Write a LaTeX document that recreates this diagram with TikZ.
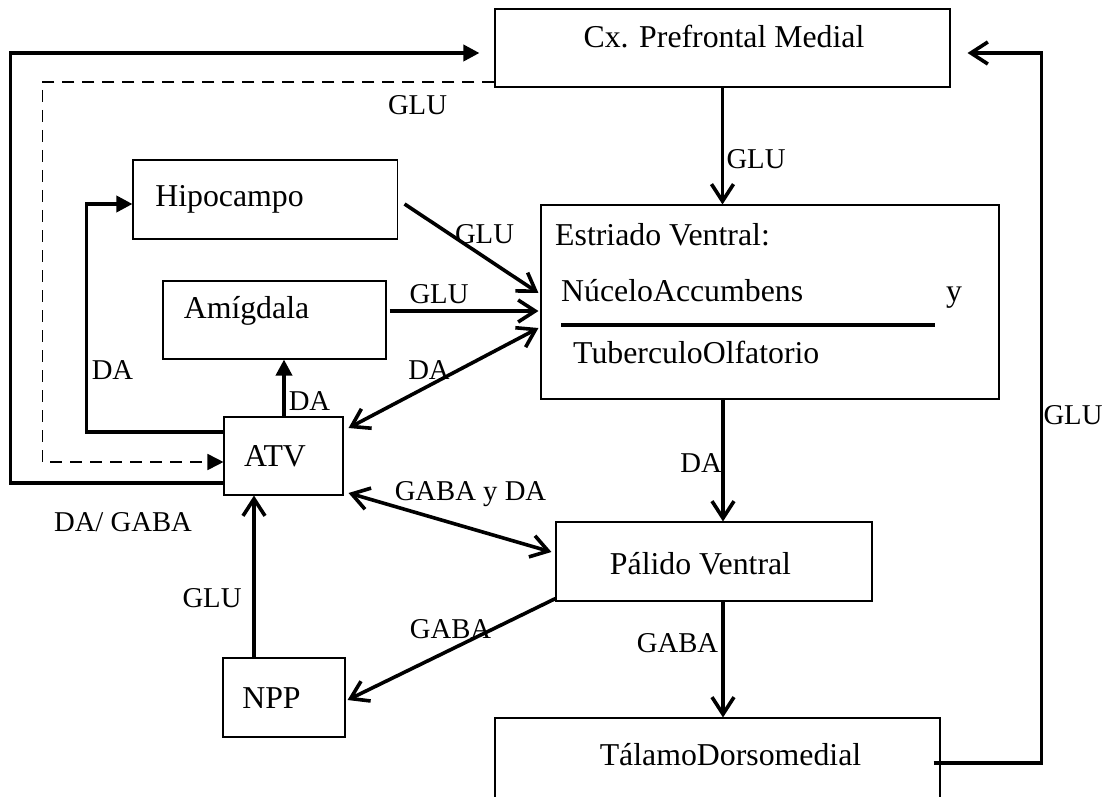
\documentclass[tikz,border=0pt]{standalone}
\usepackage{fontspec}
\setmainfont{Liberation Serif}
\usetikzlibrary{arrows.meta}

\begin{document}
\begin{tikzpicture}[x=1pt,y=-1pt,
  box/.style={draw=black, line width=1.1pt, rectangle, inner sep=0pt},
  boxtext/.style={font=\fontsize{31.8pt}{36pt}\selectfont, inner sep=0pt, anchor=base},
  lbl/.style={font=\fontsize{28.7pt}{33pt}\selectfont, inner sep=0pt, anchor=base},
  link/.style={line width=3.6pt},
  tipV/.style={-{Straight Barb[length=17pt,width=22pt]}},
  bothV/.style={{Straight Barb[length=17pt,width=22pt]}-{Straight Barb[length=17pt,width=22pt]}},
  tipT/.style={-{Triangle[length=16pt,width=16pt]}},
  dashlink/.style={line width=1.8pt, dash pattern=on 12pt off 8pt}
]
% canvas
\useasboundingbox (0,0) rectangle (1109,797);
\fill[white] (0,0) rectangle (1109,797);
\clip (0,0) rectangle (1109,797);

% boxes
\node[box, minimum width=455pt, minimum height=78pt] (cx)  at (722.5,48)  {};
\node[box, minimum width=264.5pt, minimum height=79pt] (hip) at (265.25,199.5) {};
\node[box, minimum width=223pt, minimum height=78pt] (amy) at (274.5,320) {};
\node[box, minimum width=119pt, minimum height=78pt] (atv) at (283.5,456) {};
\node[box, minimum width=122pt, minimum height=79pt] (npp) at (284,697.5) {};
\node[box, minimum width=458pt, minimum height=194pt] (str) at (770,302) {};
\node[box, minimum width=316pt, minimum height=79pt] (pal) at (714,561.5) {};
\node[box, minimum width=445pt, minimum height=100pt] (tal) at (717.5,768) {};

% box texts
\node[boxtext] (cxT)  at (724,48)    {Cx. Prefrontal Medial};
\node[boxtext] (hipT) at (229.5,207) {Hipocampo};
\node[boxtext] (amyT) at (246.5,318) {Amígdala};
\node[boxtext] (atvT) at (275,466)   {ATV};
\node[boxtext] (nppT) at (271.5,708) {NPP};
\node[boxtext] (palT) at (700.5,574) {Pálido Ventral};
\node[boxtext] (talT) at (730.5,765) {TálamoDorsomedial};
\node[boxtext, anchor=base west] (strA) at (555,245) {Estriado Ventral:};
\node[boxtext, anchor=base west] (strB) at (561,301) {NúceloAccumbens};
\node[boxtext, anchor=base west] (strY) at (946,301) {y};
\node[boxtext, anchor=base west] (strC) at (573,363) {TuberculoOlfatorio};
\draw[line width=3.5pt] ([xshift=-209pt,yshift=-23pt]str.center) -- ([xshift=165pt,yshift=-23pt]str.center);

% connectors
\draw[link, tipT] ([yshift=-27pt]atv.west) -- ++(-213,0) |- ([xshift=-15pt,yshift=-5pt]cx.west);
\draw[dashlink, tipT] ([yshift=-34pt]cx.west) -- ++(-452,0) |- ([yshift=-6pt]atv.west);
\draw[link, tipT] ([yshift=24pt]atv.west) -- ++(-137,0) |- ([yshift=-4.5pt]hip.west);
\draw[link, tipT] ([xshift=0.5pt]atv.north) -- ([xshift=9.5pt]amy.south);
\draw[link, tipV] ([xshift=6.5pt,yshift=-4.5pt]hip.east) -- ([xshift=-2pt,yshift=9pt]str.west);
\draw[link, tipV] ([xshift=3pt,yshift=9pt]amy.east) -- ([xshift=-2pt,yshift=-9pt]str.west);
\draw[link, bothV] ([xshift=5pt,yshift=28pt]atv.east) -- ([xshift=-2pt,yshift=-26pt]str.west);
\draw[link, bothV] ([xshift=5pt,yshift=-37pt]atv.east) -- ([xshift=-4pt,yshift=9.5pt]pal.west);
\draw[link, tipV] ([xshift=-30pt]npp.north) -- ([xshift=-29.5pt]atv.south);
\draw[link, tipV] ([yshift=3pt]pal.south west) -- ([xshift=2pt,yshift=-2.5pt]npp.east);
\draw[link, tipV] (cx.south) -- (cx.south |- str.north);
\draw[link, tipV] ([xshift=-47pt]str.south) -- ([xshift=9pt]pal.north);
\draw[link, tipV] ([xshift=9pt]pal.south) -- ([xshift=5.5pt]tal.north);
\draw[link, tipV] ([xshift=-7pt,yshift=5pt]tal.east) -- ++(108,0) |- ([xshift=17pt,yshift=-5pt]cx.east);

% connector labels
\node[lbl] (l1)  at (417.5,115) {GLU};
\node[lbl] (l2)  at (756,168)   {GLU};
\node[lbl] (l3)  at (484.5,243) {GLU};
\node[lbl] (l4)  at (439,303)   {GLU};
\node[lbl] (l5)  at (429,379)   {DA};
\node[lbl] (l6)  at (309.5,410) {DA};
\node[lbl] (l7)  at (112.5,379) {DA};
\node[lbl] (l8)  at (123,531)   {DA/ GABA};
\node[lbl] (l9)  at (470.5,500) {GABA y DA};
\node[lbl] (l10) at (212,607)   {GLU};
\node[lbl] (l11) at (450.5,638) {GABA};
\node[lbl] (l12) at (701,472)   {DA};
\node[lbl] (l13) at (677.5,652) {GABA};
\node[lbl] (l14) at (1073,424)  {GLU};
\end{tikzpicture}
\end{document}
